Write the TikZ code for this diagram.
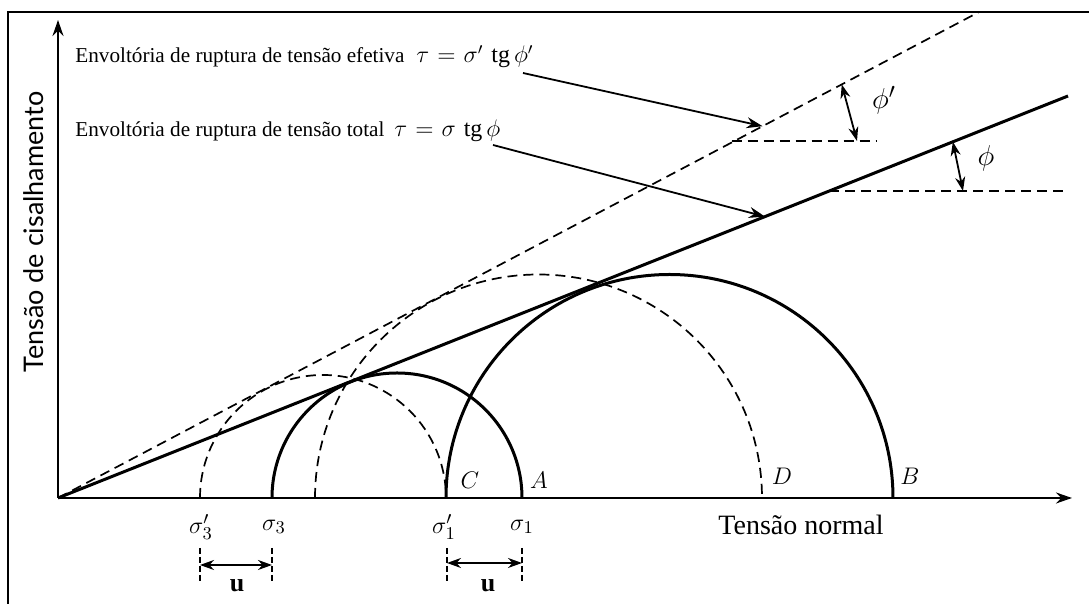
\documentclass[tikz,border=0pt]{standalone}
\usepackage{fontspec}
\setmainfont{Liberation Serif}
\newfontfamily\labsans{Lato}
\usetikzlibrary{arrows.meta,calc}
\begin{document}
\begin{tikzpicture}[x=0.5pt,y=0.5pt,
  axis/.style={line width=1pt,-{Stealth[length=8pt,width=5.5pt]}},
  solidc/.style={line width=1.5pt},
  dashc/.style={line width=0.85pt,dash pattern=on 5pt off 3pt},
  pointer/.style={line width=0.9pt,-{Stealth[length=8pt,width=5.5pt]}},
  dbl/.style={line width=0.9pt,{Stealth[length=7pt,width=5pt]}-{Stealth[length=7pt,width=5pt]}},
  tick/.style={line width=0.6pt,dash pattern=on 3pt off 1.5pt},
  txt/.style={font=\fontsize{10.6}{13}\selectfont,inner sep=0pt},
  mth/.style={font=\fontsize{12}{14}\selectfont,inner sep=0pt},
  lab/.style={font=\fontsize{13}{15}\selectfont,inner sep=0pt},
  big/.style={font=\fontsize{15}{17}\selectfont,inner sep=0pt}]
\useasboundingbox (0,0) rectangle (1089,604);
% frame
\draw[line width=1pt] (8,0) -- (8,592) -- (1089,592);
% axes
\coordinate (O) at (58,106);
\coordinate (Ytop) at (58,584);
\coordinate (Xend) at (1072,106);
\draw[axis] (O) -- (Ytop);
\draw[axis] (O) -- (Xend);
% envelopes
\coordinate (Etot) at (1068,508);
\coordinate (Eeff) at (979,592);
\draw[solidc] (O) -- (Etot);
\draw[dashc] (O) -- (Eeff);
% circles
\draw[solidc] (272,106) arc (180:0:125);
\draw[solidc] (446,106) arc (180:0:223.5);
\draw[dashc] (200,106) arc (180:0:123);
\draw[dashc] (315,106) arc (180:0:223.5);
% labels of envelopes
\node[txt,anchor=base west] (t1) at (75,541) {Envoltória de ruptura de tensão efetiva};
\node[mth,anchor=base west] (m1) at (416,541) {$\tau\hspace{4pt}{=}\hspace{4pt}\sigma'\hspace{4pt}\mathrm{tg}\hspace{2pt}\phi'$};
\node[txt,anchor=base west] (t2) at (75,467) {Envoltória de ruptura de tensão total};
\node[mth,anchor=base west] (m2) at (394,467) {$\tau\hspace{4pt}{=}\hspace{4pt}\sigma\hspace{4pt}\mathrm{tg}\hspace{2pt}\phi$};
\coordinate (p1) at ($(O)!0.765!(Eeff)$);
\coordinate (p2) at ($(O)!0.70!(Etot)$);
\coordinate (s1) at (523,531);
\coordinate (s2) at (493,459);
\draw[pointer] (s1) -- (p1);
\draw[pointer] (s2) -- (p2);
% phi'
\coordinate (h1a) at (731.6,463);
\coordinate (h1b) at (877,463);
\draw[dashc] (h1a) -- (h1b);
\coordinate (a1) at ($(O)!0.851!(Eeff)$);
\coordinate (b1) at (857,463);
\draw[dbl] (a1) -- (b1);
\node[big] (phip) at (884,504) {$\phi'$};
% phi
\coordinate (h2a) at (829,413);
\coordinate (h2b) at (1067,413);
\draw[dashc] (h2a) -- (h2b);
\coordinate (a2) at ($(O)!0.886!(Etot)$);
\coordinate (b2) at (963,413);
\draw[dbl] (a2) -- (b2);
\node[big] (phi) at (986,446) {$\phi$};
% points
\node[lab] (C) at (470,124) {$C$};
\node[lab] (A) at (539,124) {$A$};
\node[lab] (D) at (782,128) {$D$};
\node[lab] (B) at (910,128) {$B$};
% sigma labels
\node[lab] (s3p) at (201,77) {$\sigma_3'$};
\node[lab] (s3) at (274,77) {$\sigma_3$};
\node[lab] (s1p) at (444,77) {$\sigma_1'$};
\node[lab] (s1l) at (522,77) {$\sigma_1$};
\node[font=\fontsize{14}{16}\selectfont,inner sep=0pt] (xl) at (801,79) {Tensão normal};
\node[font=\fontsize{13.5}{16}\selectfont,inner sep=0pt,rotate=90] (yl) at (34,372) {\labsans Tensão de cisalhamento};
% u dimensions
\coordinate (u1a) at (200,56); \coordinate (u1b) at (200,22);
\coordinate (u1c) at (272,56); \coordinate (u1d) at (272,22);
\draw[tick] (u1a) -- (u1b);
\draw[tick] (u1c) -- (u1d);
\coordinate (u1l) at (200,39); \coordinate (u1r) at (272,39);
\draw[dbl] (u1l) -- (u1r);
\node[lab] (u1) at (237,18) {\textbf{u}};
\coordinate (u2a) at (447,56); \coordinate (u2b) at (447,22);
\coordinate (u2c) at (522,56); \coordinate (u2d) at (522,22);
\draw[tick] (u2a) -- (u2b);
\draw[tick] (u2c) -- (u2d);
\coordinate (u2l) at (447,41); \coordinate (u2r) at (522,41);
\draw[dbl] (u2l) -- (u2r);
\node[lab] (u2) at (488,18) {\textbf{u}};
\end{tikzpicture}
\end{document}
